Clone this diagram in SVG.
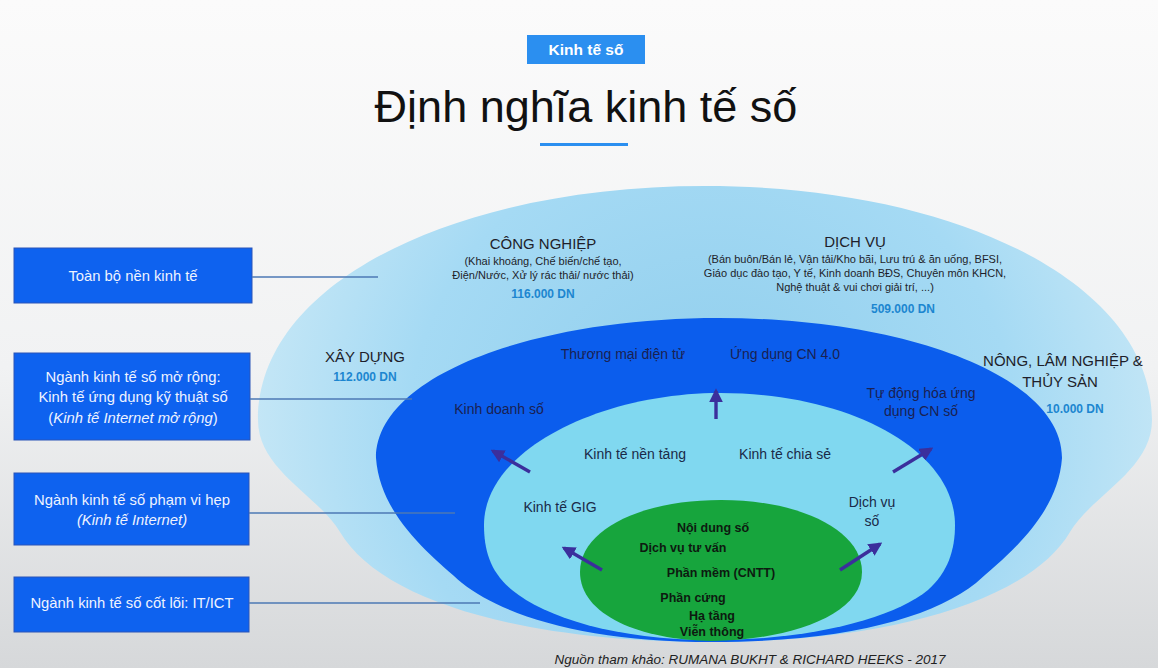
<svg xmlns="http://www.w3.org/2000/svg" width="1158" height="668" viewBox="0 0 1158 668">
<defs>
<linearGradient id="bg" x1="0" y1="0" x2="0" y2="1">
<stop offset="0" stop-color="#fbfbfb"/>
<stop offset="0.55" stop-color="#f1f2f3"/>
<stop offset="1" stop-color="#d6d8da"/>
</linearGradient>
<radialGradient id="outerFill" gradientUnits="userSpaceOnUse" cx="712" cy="440" r="470">
<stop offset="0" stop-color="#8ecdec"/>
<stop offset="0.65" stop-color="#a5daf4"/>
<stop offset="1" stop-color="#c6e7f6"/>
</radialGradient>
<marker id="ah" viewBox="0 0 10 10" refX="8" refY="5" markerWidth="4" markerHeight="4" orient="auto" markerUnits="strokeWidth">
<path d="M0,0 L10,5 L0,10 Z" fill="#3b2f9c"/>
</marker>
<style>
text{font-family:"Liberation Sans",Arial,sans-serif;}
.box{fill:#0e62ef;stroke:#2a55b8;stroke-width:1;}
.bt{fill:#eef3ff;font-size:14.8px;text-anchor:middle;}
.conn{stroke:#4d78b4;stroke-width:1.5;fill:none;}
.sec{fill:#1e1e2a;font-size:15px;text-anchor:middle;}
.sub{fill:#1e1e2a;font-size:11px;text-anchor:middle;}
.num{fill:#1c86d0;font-size:12px;font-weight:bold;text-anchor:middle;}
.dk{fill:#1a2152;font-size:14px;text-anchor:middle;}
.cy{fill:#1a2a48;font-size:14px;text-anchor:middle;}
.gr{fill:#0d1a10;font-size:12.5px;font-weight:bold;text-anchor:middle;}
.arr{stroke:#3b2f9c;stroke-width:3.4;fill:none;marker-end:url(#ah);}
</style>
</defs>
<rect x="0" y="0" width="1158" height="668" fill="url(#bg)"/>

<g id="header">
<rect x="527" y="35" width="118" height="29" fill="#2b8ff0"/>
<text x="586" y="55" font-size="15.5" font-weight="bold" fill="#ffffff" text-anchor="middle">Kinh tế số</text>
<text x="586" y="122" font-size="45" fill="#111111" text-anchor="middle">Định nghĩa kinh tế số</text>
<rect x="540" y="143" width="88" height="3" fill="#2b8ff0"/>
</g>

<g id="whole-economy">
<path d="M712 642 C520 642 380 600 340 532 C318 495 258 470 258 420 C258 280 460 186 705 186 C950 186 1152 280 1152 420 C1152 470 1092 495 1070 532 C1030 600 890 642 712 642 Z" fill="url(#outerFill)"/>
<text class="sec" x="543" y="249">CÔNG NGHIỆP</text>
<text class="sub" x="543" y="265">(Khai khoáng, Chế biến/chế tạo,</text>
<text class="sub" x="543" y="279">Điện/Nước, Xử lý rác thải/ nước thải)</text>
<text class="num" x="543" y="298">116.000 DN</text>
<text class="sec" x="855" y="247">DỊCH VỤ</text>
<text class="sub" x="855" y="263">(Bán buôn/Bán lẻ, Vận tải/Kho bãi, Lưu trú &amp; ăn uống, BFSI,</text>
<text class="sub" x="855" y="277">Giáo dục đào tạo, Y tế, Kinh doanh BĐS, Chuyên môn KHCN,</text>
<text class="sub" x="855" y="291">Nghệ thuật &amp; vui chơi giải trí, ...)</text>
<text class="num" x="903" y="313">509.000 DN</text>
<text class="sec" x="365" y="362">XÂY DỰNG</text>
<text class="num" x="365" y="381">112.000 DN</text>
<text class="sec" x="1063" y="366">NÔNG, LÂM NGHIỆP &amp;</text>
<text class="sec" x="1060" y="387">THỦY SẢN</text>
<text class="num" x="1075" y="413">10.000 DN</text>
</g>

<g id="extended-digital">
<path d="M712 642 C590 642 505 617 462 583 C430 555 380 515 376 458 C376 375 535 318 719 318 C903 318 1062 375 1062 458 C1058 515 1008 555 976 583 C933 617 848 642 712 642 Z" fill="#0b5ded"/>
<text class="dk" x="623" y="359">Thương mại điện tử</text>
<text class="dk" x="785" y="359">Ứng dụng CN 4.0</text>
<text class="dk" x="499" y="414">Kinh doanh số</text>
<text class="dk" x="921" y="398">Tự động hóa ứng</text>
<text class="dk" x="921" y="416">dụng CN số</text>
</g>

<g id="narrow-digital">
<path d="M712 640 C615 640 545 617 512 590 C490 572 484 550 484 525 C484 450 600 393 720 393 C850 393 955 450 955 525 C955 550 948 572 928 590 C895 617 815 640 712 640 Z" fill="#80d8f0"/>
<text class="cy" x="635" y="459">Kinh tế nền tảng</text>
<text class="cy" x="785" y="459">Kinh tế chia sẻ</text>
<text class="cy" x="560" y="512">Kinh tế GIG</text>
<text class="cy" x="872" y="507">Dịch vụ</text>
<text class="cy" x="872" y="526">số</text>
</g>

<g id="core-digital">
<path d="M712 641 C640 640 580 615 580 572 C580 530 640 500 721 500 C800 500 862 530 862 572 C862 615 790 640 712 641 Z" fill="#17a53d"/>
<text class="gr" x="713" y="532">Nội dung số</text>
<text class="gr" x="683" y="552">Dịch vụ tư vấn</text>
<text class="gr" x="721" y="577">Phần mềm (CNTT)</text>
<text class="gr" x="693" y="602">Phần cứng</text>
<text class="gr" x="712" y="620">Hạ tầng</text>
<text class="gr" x="712" y="636">Viễn thông</text>
</g>

<g id="box-whole">
<rect class="box" x="14" y="248" width="238" height="55"/>
<text class="bt" x="133" y="281">Toàn bộ nền kinh tế</text>
</g>
<g id="box-extended">
<rect class="box" x="14" y="353" width="236" height="87"/>
<text class="bt" x="133" y="382">Ngành kinh tế số mở rộng:</text>
<text class="bt" x="133" y="402">Kinh tế ứng dụng kỹ thuật số</text>
<text class="bt" x="133" y="423">(<tspan font-style="italic">Kinh tế Internet mở rộng</tspan>)</text>
</g>
<g id="box-narrow">
<rect class="box" x="14" y="473" width="235" height="72"/>
<text class="bt" x="132" y="505">Ngành kinh tế số phạm vi hẹp</text>
<text class="bt" x="132" y="525" font-style="italic">(Kinh tế Internet)</text>
</g>
<g id="box-core">
<rect class="box" x="14" y="577" width="235" height="55"/>
<text class="bt" x="132" y="608">Ngành kinh tế số cốt lõi: IT/ICT</text>
</g>

<g id="connectors">
<line class="conn" x1="252" y1="277" x2="378" y2="277"/>
<line class="conn" x1="250" y1="399" x2="412" y2="399"/>
<line class="conn" x1="249" y1="513" x2="455" y2="513"/>
<line class="conn" x1="249" y1="603" x2="480" y2="603"/>
<line class="arr" x1="530" y1="472" x2="493" y2="451"/>
<line class="arr" x1="716" y1="419" x2="716" y2="391"/>
<line class="arr" x1="893" y1="472" x2="931" y2="449"/>
<line class="arr" x1="602" y1="570" x2="564" y2="548"/>
<line class="arr" x1="840" y1="570" x2="880" y2="544"/>
</g>

<text x="750" y="664" font-size="13.5" font-style="italic" fill="#222222" text-anchor="middle">Nguồn tham khảo: RUMANA BUKHT &amp; RICHARD HEEKS - 2017</text>
</svg>
